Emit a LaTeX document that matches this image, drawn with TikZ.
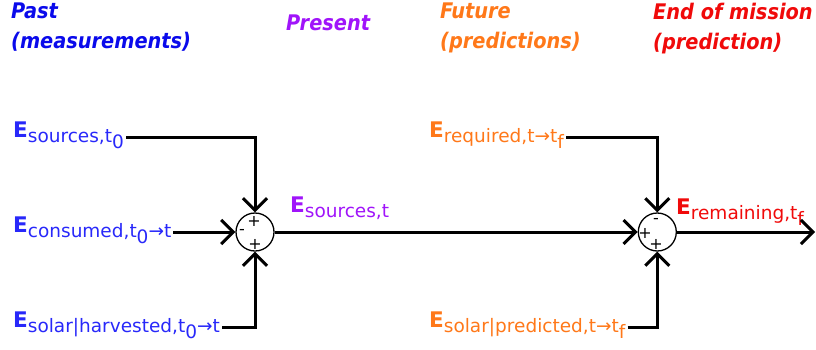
\documentclass[tikz,border=0pt]{standalone}
\usepackage{fontspec}
\setmainfont{DejaVu Sans}
\newfontfamily\phasefont{DejaVu Sans Condensed}
\usetikzlibrary{arrows.meta,positioning}
\definecolor{pastblue}{RGB}{10,10,235}
\definecolor{srcblue}{RGB}{40,40,250}
\definecolor{nowpurple}{RGB}{160,20,250}
\definecolor{futorange}{RGB}{255,120,25}
\definecolor{endred}{RGB}{240,10,10}
% energy label: bold E with lowered subscript
\newcommand{\En}[1]{\fontsize{21.5}{21.5}\selectfont\textbf{E}\raisebox{-5pt}{\fontsize{18.5}{18.5}\selectfont #1}}
\newcommand{\dn}[1]{\raisebox{-6pt}{#1}}

\begin{document}
\begin{tikzpicture}[x=1pt,y=-1pt,
      flow/.style={draw,line width=3pt,-{Straight Barb[length=12pt,width=24pt,line width=3pt]}},
      sum/.style={circle,draw,line width=1.3pt,minimum size=38pt,inner sep=0pt},
      sign/.style={font=\fontsize{16}{16}\selectfont,inner sep=0pt},
      energy/.style={anchor=base west,inner sep=2pt},
      phase/.style={anchor=north west,inner sep=0pt,align=left,
        font=\phasefont\fontsize{21.5}{30}\selectfont\bfseries\itshape}]
      \useasboundingbox (0,0) rectangle (816,349);

      % time headers
      \node[phase,text=pastblue] (past) at (11,3) {Past\\(measurements)};
      \node[phase,text=nowpurple] (present) at (286,15) {Present};
      \node[phase,text=futorange] (future) at (440,3) {Future\\(predictions)};
      \node[phase,text=endred] (endmission) at (653,3) {End of mission\\(prediction)};

      % summing junctions
      \node[sum] (sum1) at (255,232) {};
      \node[sum,right=363pt of sum1] (sum2) {};
      \node[sign] at (254,221) {+};
      \node[sign] at (242,232) {-};
      \node[sign] at (255,244) {+};
      \node[sign] at (656,221) {-};
      \node[sign] at (645,233) {+};
      \node[sign] at (656,244) {+};

      % energy terms
      \node[energy,text=srcblue] (src0) at (11,137) {\En{sources,t\dn{0}}};
      \node[energy,text=srcblue] (cons) at (11,232) {\En{consumed,t\dn{0}→t}};
      \node[energy,text=srcblue] (harv) at (11,327) {\En{solar|harvested,t\dn{0}→t}};
      \node[energy,text=nowpurple] (srcnow) at (288,212) {\En{sources,t}};
      \node[energy,text=futorange] (req) at (427,137) {\En{required,t→t\dn{f}}};
      \node[energy,text=futorange] (pred) at (427,327) {\En{solar|predicted,t→t\dn{f}}};
      \node[energy,text=endred] (remain) at (674,214) {\En{remaining,t\dn{f}}};
      \coordinate (out) at (815,232);

      \draw[flow] (src0.base east) -| (sum1.north);
      \draw[flow] (cons.base east) -- (sum1.west);
      \draw[flow] (harv.base east) -| (sum1.south);
      \draw[flow] (sum1.east) -- (sum2.west);
      \draw[flow] (req.base east) -| (sum2.north);
      \draw[flow] (pred.base east) -| (sum2.south);
      \draw[flow] (sum2.east) -- (out);
    \end{tikzpicture}
\end{document}
